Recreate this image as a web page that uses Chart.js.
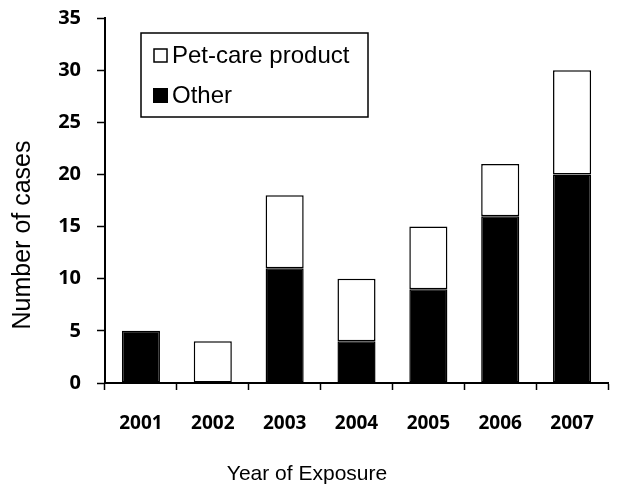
<!DOCTYPE html>
<html>
<head>
<meta charset="utf-8">
<script src="https://cdn.jsdelivr.net/npm/chart.js@4.4.1/dist/chart.umd.min.js"></script>
<style>
  html, body { margin: 0; padding: 0; background: #fff; }
  #wrap { width: 630px; height: 489px; }
</style>
</head>
<body>
<div id="wrap"><canvas id="c" width="630" height="489"></canvas></div>
<script>
const years = ['2001', '2002', '2003', '2004', '2005', '2006', '2007'];
const otherCases = [5, 0, 11, 4, 9, 16, 20];
const petCareCases = [0, 4, 7, 6, 6, 5, 10];
const seriesLabels = ['Pet-care product', 'Other'];
const xTitle = 'Year of Exposure';
const yTitle = 'Number of cases';
const yTicks = [0, 5, 10, 15, 20, 25, 30, 35];

const boxLegend = {
  id: 'boxLegend',
  afterDraw(chart) {
    const ctx = chart.ctx;
    const a = chart.chartArea;
    const x0 = a.left + 36, y0 = a.top + 15, w = 227, h = 84;
    ctx.save();
    ctx.strokeStyle = '#000';
    ctx.lineWidth = 1.5;
    ctx.strokeRect(x0, y0, w, h);
    ctx.font = '24px "Liberation Sans", Arial, sans-serif';
    ctx.textBaseline = 'middle';
    ctx.fillStyle = '#fff';
    ctx.fillRect(x0 + 13, y0 + 16, 13, 13);
    ctx.lineWidth = 1.5;
    ctx.strokeRect(x0 + 13, y0 + 16, 13, 13);
    ctx.fillStyle = '#000';
    ctx.fillText(seriesLabels[0], x0 + 31, y0 + 23);
    ctx.fillRect(x0 + 12, y0 + 55, 15, 15);
    ctx.fillText(seriesLabels[1], x0 + 31, y0 + 63);
    ctx.restore();
  }
};

const figTitles = {
  id: 'figTitles',
  afterDraw(chart) {
    const ctx = chart.ctx;
    ctx.save();
    ctx.fillStyle = '#000';
    ctx.textAlign = 'center';
    ctx.textBaseline = 'middle';
    ctx.font = '21px "Liberation Sans", Arial, sans-serif';
    ctx.fillText(xTitle, 307, 474);
    ctx.translate(23, 235);
    ctx.rotate(-Math.PI / 2);
    ctx.font = '25px "Liberation Sans", Arial, sans-serif';
    ctx.fillText(yTitle, 0, 0);
    ctx.restore();
  }
};

new Chart(document.getElementById('c'), {
  type: 'bar',
  data: {
    labels: years,
    datasets: [
      {
        label: seriesLabels[1],
        data: otherCases.map(v => (v ? v : null)),
        backgroundColor: '#000',
        borderColor: '#000',
        borderWidth: 1.5,
        borderSkipped: false,
        barPercentage: 0.53,
        categoryPercentage: 1
      },
      {
        label: seriesLabels[0],
        data: petCareCases.map(v => (v ? v : null)),
        backgroundColor: '#fff',
        borderColor: '#000',
        borderWidth: 1.5,
        borderSkipped: false,
        barPercentage: 0.53,
        categoryPercentage: 1
      }
    ]
  },
  options: {
    responsive: false,
    animation: false,
    devicePixelRatio: 1,
    layout: { padding: { top: 18, right: 22, left: 0, bottom: 0 } },
    plugins: {
      legend: { display: false },
      tooltip: { enabled: false },
      title: { display: false }
    },
    scales: {
      x: {
        stacked: true,
        afterFit(s) { s.height = 106; s.paddingLeft = 0; s.paddingRight = 0; },
        grid: {
          offset: true,
          drawOnChartArea: false,
          drawTicks: true,
          tickLength: 7,
          tickColor: '#000',
          tickWidth: 1.5
        },
        border: { display: true, color: '#000', width: 2 },
        ticks: {
          color: '#000',
          padding: 22,
          font: { family: '"Open Sans", sans-serif', size: 19, weight: 'bold' }
        }
      },
      y: {
        stacked: true,
        min: 0,
        max: 35,
        afterFit(s) { s.width = 105; s.paddingTop = 0; s.paddingBottom = 0; },
        afterBuildTicks(s) { s.ticks = yTicks.map(v => ({ value: v })); },
        grid: {
          drawOnChartArea: false,
          drawTicks: true,
          tickLength: 8,
          tickColor: '#000',
          tickWidth: 1.5
        },
        border: { display: true, color: '#000', width: 2 },
        ticks: {
          color: '#000',
          padding: 16,
          font: { family: '"Open Sans", sans-serif', size: 20, weight: 'bold' }
        }
      }
    }
  },
  plugins: [boxLegend, figTitles]
});
</script>
</body>
</html>
